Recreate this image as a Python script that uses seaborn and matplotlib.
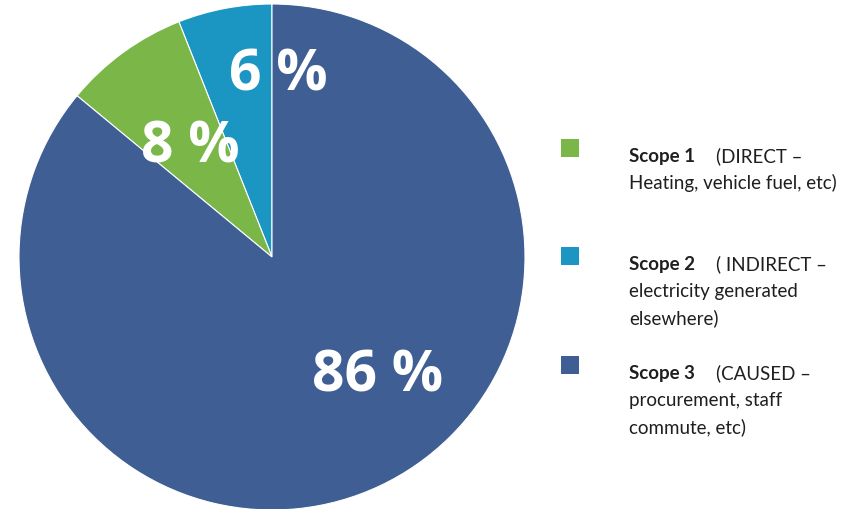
import matplotlib.pyplot as plt
import matplotlib.patches as mpatches
import seaborn as sns

sns.set_theme(style="white")
plt.rcParams['font.family'] = ['Lato', 'DejaVu Sans']

# data, in drawing order (counter-clockwise from the top)
scopes = ['Scope 2', 'Scope 1', 'Scope 3']
shares = [6, 8, 86]
colors = ['#1b96c3', '#7ab648', '#3e5e94']
pct_labels = ['6 %', '8 %', '86 %']
pct_pos = [(0.024, 0.72), (-0.324, 0.435), (0.419, -0.47)]

legend_titles = ['Scope 1', 'Scope 2', 'Scope 3']
legend_first = ['(DIRECT \u2013', '( INDIRECT \u2013', '(CAUSED \u2013']
legend_rest = [['Heating, vehicle fuel, etc)'],
               ['electricity generated', 'elsewhere)'],
               ['procurement, staff', 'commute, etc)']]
legend_colors = ['#7ab648', '#1b96c3', '#3e5e94']

W, H = 845, 510
fig = plt.figure(figsize=(W / 100, H / 100), dpi=100)
cx, cy, r = 272, 258, 253
ax = fig.add_axes([(cx - r) / W, (H - cy - r) / H, 2 * r / W, 2 * r / H])
ax.pie(shares, colors=colors, startangle=90, counterclock=True, radius=1,
       wedgeprops=dict(edgecolor='white', linewidth=0.8))
ax.set_xlim(-1, 1)
ax.set_ylim(-1, 1)
ax.set_aspect('equal')

for lab, (x, y) in zip(pct_labels, pct_pos):
    ax.text(x, y, lab, color='white', fontsize=41, fontweight='bold',
            family=['Open Sans', 'DejaVu Sans'], ha='center', va='center')

# legend drawn by hand
box_tops = [140, 248, 357]
line_h = 27
for i in range(3):
    top = box_tops[i]
    fig.patches.append(mpatches.Rectangle((561 / W, 1 - (top + 18) / H), 18 / W, 18 / H,
                                          transform=fig.transFigure,
                                          facecolor=legend_colors[i], edgecolor='none'))
    base = top + 22
    fig.text(629 / W, 1 - base / H, legend_titles[i], fontsize=13.5, fontweight='bold',
             color='#1f1f1f', va='baseline')
    fig.text(716 / W, 1 - base / H, legend_first[i], fontsize=13.5, color='#1f1f1f',
             va='baseline')
    for j, line in enumerate(legend_rest[i]):
        fig.text(629 / W, 1 - (base + line_h * (j + 1)) / H, line, fontsize=13.5,
                 color='#1f1f1f', va='baseline')

fig.savefig('out.png', dpi=100, facecolor='white')
